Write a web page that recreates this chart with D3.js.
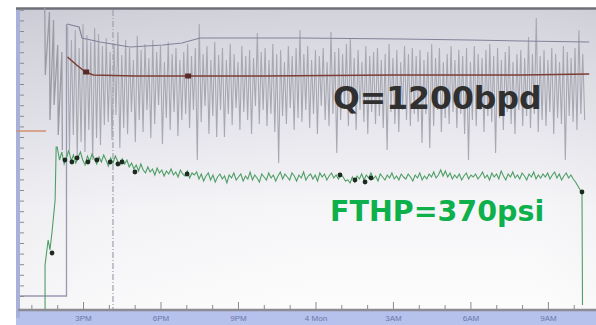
<!DOCTYPE html>
<html><head><meta charset="utf-8">
<script src="https://cdn.jsdelivr.net/npm/d3@7"></script>
<style>body{margin:0;background:#fff}svg{display:block}</style>
</head><body><svg id="c" width="596" height="325"></svg>
<script>
// ---- data (hours since 12 PM Sunday; generic chart units) ----
const tickHours = [3, 6, 9, 12, 15, 18, 21];
const tickLabels = ["3PM", "6PM", "9PM", "4 Mon", "3AM", "6AM", "9AM"];
const minorHours = [1,2,4,5,7,8,10,11,13,14,16,17,19,20,22];

// Q (flow) raw trace: pre-start baseline then oscillation
const qStartT = [0.56, 2.36, 2.36];
const qStartV = [14, 14, 286];
const qEarlyT = [1.52, 1.54, 1.70, 1.72, 1.86, 1.88, 2.02, 2.04, 2.18, 2.20];
const qEarlyV = [302, 235, 298, 190, 290, 205, 265, 175, 258, 160];
const qSpikeT0 = 2.40, qSpikeDt = 0.075;
const qSpikeV = [
 284,160,270,175,280,152,262,168,286,158,275,180,268,150,282,172,276,165,264,185,
 272,188,258,170,266,195,278,162,255,182,270,176,262,198,250,168,274,190,260,178,
 266,200,252,172,270,186,258,205,264,166,248,192,268,180,256,198,262,174,250,190,
 258,196,266,182,254,200,262,150,286,188,256,204,264,176,250,194,268,173,255,200,
 262,173,250,196,266,185,256,202,248,180,264,198,254,190,260,176,252,204,277,186,
 258,200,262,184,250,196,266,178,256,147,260,194,248,186,264,202,254,180,262,192,
 280,188,256,200,264,182,250,196,260,176,254,204,262,190,248,184,278,196,258,157,
 262,190,256,202,266,184,272,196,252,180,260,200,248,188,264,176,254,198,258,186,
 262,194,250,182,256,160,266,198,252,186,260,178,248,200,264,190,256,184,262,196,
 254,188,260,167,250,196,258,162,266,184,252,200,262,178,248,192,256,186,264,198,
 250,182,260,196,254,176,262,150,248,190,264,184,256,200,252,178,260,194,266,188,
 254,157,262,192,250,180,258,198,264,186,248,176,256,200,260,184,252,194,273,182,
 256,196,292,178,254,190,260,184,250,198,262,176,256,192,248,186,264,150,258,194,
 252,188,262,180,280,196,256,190
];
// Upper envelope trace
const envT = [2.38, 2.85, 2.96, 3.66, 4.82, 6.10, 6.83, 7.53, 11.4, 15.3, 18.0, 20.0, 22.6];
const envV = [286, 283, 272, 268, 263, 265, 267, 272, 272, 271, 270, 269, 268];
// Q average (brown)
const qAvgT = [2.40, 2.75, 3.10, 3.40, 5.0, 10.0, 15.0, 20.0, 22.6];
const qAvgV = [253, 245, 238, 235, 234, 234, 235, 235, 236];
const qMarkT = [3.12, 7.07];
const qMarkV = [238, 234];
// FTHP (green)
const pStartT = [1.53, 1.53, 1.65, 1.72, 1.80, 1.92, 1.96];
const pStartV = [0, 45, 70, 60, 78, 110, 163];
const pT0 = 2.0, pDt = 0.09;
const pV = [
 163,150,158,146,152,160,149,155,147,153,158,150,145,154,149,156,151,146,153,148,155,150,144,152,147,154,149,145,151,146,
 150,143,147,141,145,139,146,140,137,143,138,141,135,142,137,140,134,139,136,141,135,138,133,140,136,134,139,132,137,135,
 138,131,136,129,134,137,130,135,128,133,136,131,134,127,135,132,137,130,133,136,129,134,131,138,130,135,132,128,136,133,
 130,137,132,135,129,134,138,131,136,133,130,137,134,129,135,132,138,130,134,136,131,135,129,137,133,136,130,134,137,132,
 135,131,136,133,129,130,127,133,128,134,131,136,130,135,132,137,131,134,129,136,133,130,135,132,137,131,134,130,136,133,
 131,136,133,129,135,132,137,130,134,131,136,133,138,132,135,140,134,139,133,137,131,135,132,136,130,134,137,131,135,133,
 136,131,134,138,132,135,130,137,133,136,131,139,134,130,136,133,138,132,135,131,137,134,130,136,133,138,131,135,132,136,
 133,137,131,135,138,132,136,130,134,137,132,135,131,128,124,120
];
const pEndT = [22.32, 22.34];
const pEndV = [118, 5];
const pMarkT = [1.80, 2.30, 2.57, 2.77, 3.19, 3.54, 4.05, 4.35, 4.51, 5.01, 7.03, 12.95, 13.53, 13.92, 14.15, 22.32];
const pMarkV = [57, 150, 148, 152, 148, 150, 148, 146, 148, 138, 136, 135, 130, 128, 132, 118];
// short reference mark and cursor
const refT = [0.42, 1.57], refV = [179, 179];
const cursorHour = 4.16;
const labelQ = "Q=1200bpd";
const labelP = "FTHP=370psi";

// ---- drawing ----
const svg = d3.select("#c");
const x = d3.scaleLinear().domain([0.56, 22.63]).range([20, 590]);
const y = d3.scaleLinear().domain([0, 300]).range([310, 10]);
const defs = svg.append("defs");
const g1 = defs.append("linearGradient").attr("id","bg").attr("x1",0).attr("y1",0).attr("x2",0).attr("y2",1);
[[0,"#c9cad4"],[0.12,"#d3d3dc"],[0.4,"#e3e3ea"],[0.65,"#f4f4f7"],[1,"#fcfcfc"]].forEach(s=>g1.append("stop").attr("offset",s[0]).attr("stop-color",s[1]));
const g2 = defs.append("linearGradient").attr("id","bg2").attr("x1",0).attr("y1",0).attr("x2",1).attr("y2",0);
[[0,"#d0d0d8"],[0.15,"#e8e8ee"],[0.5,"#ffffff"],[0.9,"#ffffff"],[1,"#e8e8ea"]].forEach(s=>g2.append("stop").attr("offset",s[0]).attr("stop-color",s[1]));

svg.append("rect").attr("x",16).attr("y",8).attr("width",580).attr("height",304).attr("fill","url(#bg2)");
svg.append("rect").attr("x",16).attr("y",8).attr("width",580).attr("height",304).attr("fill","url(#bg)").attr("opacity",0.85);
svg.append("rect").attr("x",16).attr("y",311).attr("width",580).attr("height",14).attr("fill","#b6c1ec");
svg.append("rect").attr("x",16).attr("y",8).attr("width",4).attr("height",310).attr("fill","#a7b1da");
svg.append("line").attr("x1",16).attr("x2",596).attr("y1",8.5).attr("y2",8.5).attr("stroke","#6e7078").attr("stroke-width",2.5);

// cursor
svg.append("line").attr("x1",x(cursorHour)).attr("x2",x(cursorHour)).attr("y1",10).attr("y2",309)
  .attr("stroke","#a0a0b0").attr("stroke-width",1.2).attr("stroke-dasharray","6,2,1,2");

const line = d3.line().x(d=>x(d[0])).y(d=>y(d[1]));
const zip = (T,V)=>T.map((t,i)=>[t,V[i]]);
const spikes = qSpikeV.map((v,i)=>[qSpikeT0+i*qSpikeDt, v]);
const pMain = pV.map((v,i)=>[pT0+i*pDt, v]);

svg.append("path").attr("d",line(zip(qStartT,qStartV))).attr("fill","none").attr("stroke","#9a98b0").attr("stroke-width",1.3);
svg.append("path").attr("d",line(zip(qEarlyT,qEarlyV))).attr("fill","none").attr("stroke","#9c9ca6").attr("stroke-width",1.3);
svg.append("path").attr("d",line(spikes)).attr("fill","none").attr("stroke","#a8a8b3").attr("stroke-width",1.1);
svg.append("path").attr("d",line(zip(envT,envV))).attr("fill","none").attr("stroke","#85809a").attr("stroke-width",1.1);
svg.append("path").attr("d",line(zip(qAvgT,qAvgV))).attr("fill","none").attr("stroke","#7d3c34").attr("stroke-width",1.5);
svg.selectAll(".qm").data(zip(qMarkT,qMarkV)).join("rect").attr("x",d=>x(d[0])-3).attr("y",d=>y(d[1])-2.5)
  .attr("width",6).attr("height",5).attr("fill","#5a2a26");

svg.append("path").attr("d",line(zip(pStartT,pStartV).concat(pMain).concat(zip(pEndT,pEndV))))
  .attr("fill","none").attr("stroke","#4f9e66").attr("stroke-width",1.1);
svg.selectAll(".pm").data(zip(pMarkT,pMarkV)).join("circle").attr("cx",d=>x(d[0])).attr("cy",d=>y(d[1]))
  .attr("r",2.4).attr("fill","#1c2a20");
svg.append("path").attr("d",line(zip(refT,refV))).attr("fill","none").attr("stroke","#d48a6a").attr("stroke-width",1.4);

// axes
svg.append("g").attr("transform","translate(20,0)")
  .call(d3.axisRight(y).tickValues(d3.range(0,28).map(k=>14+k*10.6)).tickSize(4).tickFormat(""))
  .call(g=>{g.select(".domain").remove(); g.selectAll("line").attr("stroke","#8a8a96");});
svg.append("line").attr("x1",18).attr("x2",596).attr("y1",310).attr("y2",310).attr("stroke","#8c8c92").attr("stroke-width",2.5);
svg.append("g").attr("transform","translate(0,309)")
  .call(d3.axisTop(x).tickValues(minorHours).tickSize(4).tickFormat(""))
  .call(g=>{g.select(".domain").remove(); g.selectAll("line").attr("stroke","#8a8a96");});
svg.append("g").attr("transform","translate(0,309)")
  .call(d3.axisTop(x).tickValues(tickHours).tickSize(7).tickFormat(""))
  .call(g=>{g.select(".domain").remove(); g.selectAll("line").attr("stroke","#8a8a96");});
svg.append("g").attr("transform","translate(0,312)")
  .call(d3.axisBottom(x).tickValues(tickHours).tickSize(0).tickPadding(3).tickFormat((d,i)=>tickLabels[i]))
  .call(g=>{g.select(".domain").remove(); g.selectAll("text").attr("fill","#6a78a8")
     .style("font-family","'Liberation Sans', Arial, sans-serif").style("font-size","8px");});

// annotations
svg.append("text").attr("x",333).attr("y",109).text(labelQ)
  .attr("fill","#303030").style("font-family","'DejaVu Sans', Verdana, sans-serif").style("font-weight","bold").style("font-size","31.5px");
svg.append("text").attr("x",330).attr("y",221).text(labelP)
  .attr("fill","#0db04b").style("font-family","'DejaVu Sans', Verdana, sans-serif").style("font-weight","bold").style("font-size","28.5px");
</script></body></html>
